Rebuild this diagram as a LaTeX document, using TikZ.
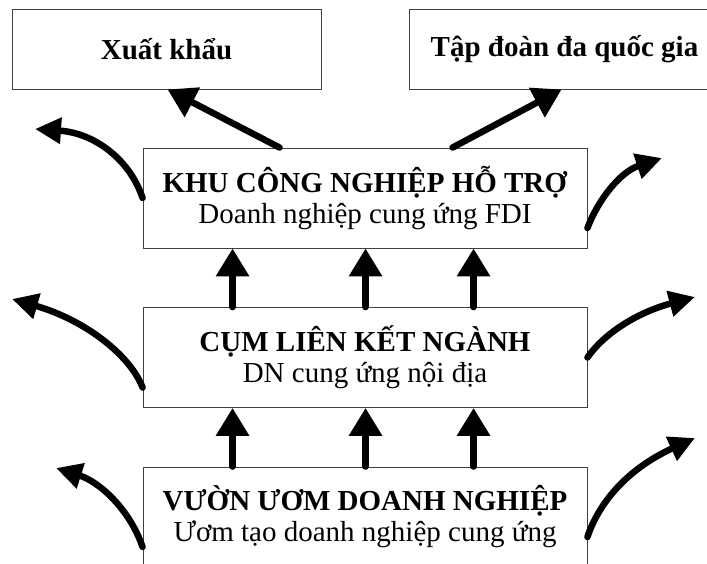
\documentclass[tikz,border=0pt]{standalone}
\usepackage{fontspec}
\setmainfont{Liberation Serif}
\usetikzlibrary{arrows.meta}
\begin{document}
\begin{tikzpicture}[x=1pt,y=-1pt,
  box/.style={draw=black!75, line width=0.9pt, fill=white, inner sep=0pt,
    align=center, font=\fontsize{29}{31}\selectfont},
  uparrow/.style={line width=6.5pt, line cap=round,
    -{Triangle[length=28pt,width=32pt]}},
  flow/.style={line width=6.5pt, line cap=round,
    -{Triangle[length=26pt,width=25pt]}}
]
\useasboundingbox (0,0) rectangle (707,563);

% destination boxes
\node[box, minimum width=309pt, minimum height=80pt] (xk) at (166.5,49)
  {\textbf{Xuất khẩu}};
\node[box, minimum width=311pt, minimum height=80pt] (td) at (564.5,49)
  {\textbf{Tập đoàn đa quốc gia}};

% the three levels
\node[box, minimum width=444pt, minimum height=100pt] (khu) at (365,198)
  {\textbf{KHU CÔNG NGHIỆP HỖ TRỢ}\\Doanh nghiệp cung ứng FDI};
\node[box, minimum width=444pt, minimum height=100pt] (cum) at (365,357.5)
  {\textbf{CỤM LIÊN KẾT NGÀNH}\\DN cung ứng nội địa};
\node[box, minimum width=444pt, minimum height=100pt] (vuon) at (365,517)
  {\textbf{VƯỜN ƯƠM DOANH NGHIỆP}\\Ươm tạo doanh nghiệp cung ứng};

% upward links between levels
\foreach \dx in {90,223,331} {
  \draw[uparrow] ([xshift=\dx pt]cum.north west) -- ([xshift=\dx pt]khu.south west);
  \draw[uparrow] ([xshift=\dx pt]vuon.north west) -- ([xshift=\dx pt]cum.south west);
}

% links to the destinations
\draw[uparrow] ([xshift=137pt]khu.north west) -- ([xshift=156pt]xk.south west);
\draw[uparrow] ([xshift=310pt]khu.north west) -- ([xshift=153pt]td.south west);

% outward flows on both sides
\coordinate (lt) at (35,129);
\coordinate (lm) at (12,299);
\coordinate (lb) at (56,468);
\coordinate (rt) at (662,158);
\coordinate (rm) at (695,297);
\coordinate (rb) at (695,438);

\draw[flow] (khu.west) .. controls (130,160) and (95,133) .. (lt);
\draw[flow] ([yshift=-30pt]cum.west) .. controls (130,355) and (85,320) .. (lm);
\draw[flow] ([yshift=-30pt]vuon.west) .. controls (130,510) and (100,482) .. (lb);
\draw[flow] ([yshift=-30pt]khu.east) .. controls (598,200) and (620,172) .. (rt);
\draw[flow] (cum.east) .. controls (603,335) and (635,313) .. (rm);
\draw[flow] ([yshift=-20pt]vuon.east) .. controls (598,505) and (625,470) .. (rb);
\end{tikzpicture}
\end{document}
